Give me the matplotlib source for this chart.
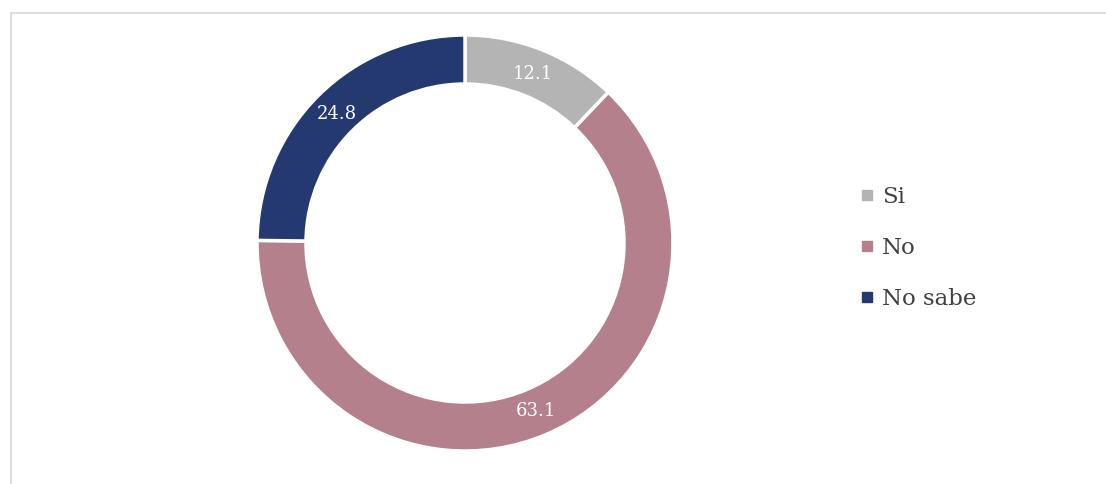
import matplotlib
matplotlib.use("Agg")
import matplotlib.pyplot as plt
from matplotlib.lines import Line2D
from matplotlib.patches import Rectangle

categories = ["Si", "No", "No sabe"]
values = [12.1, 63.1, 24.8]
colors = ["#b4b4b4", "#b3808b", "#24396f"]

W, H = 1106, 484
fig = plt.figure(figsize=(W / 100, H / 100), dpi=100)
fig.patch.set_facecolor("white")

# light frame around the chart area (open on right/bottom like the source crop)
fig.patches.append(
    Rectangle((11 / W, -0.1), 1.2, (H - 13) / H + 0.1, transform=fig.transFigure,
              fill=False, edgecolor="#dcdcdc", linewidth=1.5)
)

# axes in pixel units so the donut can be placed directly
ax = fig.add_axes([0, 0, 1, 1])
ax.set_xlim(0, W)
ax.set_ylim(0, H)
ax.set_aspect("equal")
ax.axis("off")

outer = 208
ring = 49
wedges, _, autotexts = ax.pie(
    values,
    colors=colors,
    startangle=90,
    counterclock=False,
    center=(465, H - 243),
    radius=outer,
    autopct=lambda p: f"{p:.1f}",
    pctdistance=0.875,
    wedgeprops=dict(width=ring, edgecolor="white", linewidth=2.5),
    textprops=dict(color="white", fontsize=13, family="DejaVu Serif"),
)
ax.set_xlim(0, W)
ax.set_ylim(0, H)

handles = [
    Line2D([0], [0], marker="s", linestyle="none", markersize=6.5,
           markerfacecolor=c, markeredgecolor=c)
    for c in colors
]
leg = ax.legend(
    handles, categories,
    loc="center left", bbox_to_anchor=(841 / W, (H - 248) / H),
    bbox_transform=fig.transFigure,
    frameon=False, handlelength=0.5, handletextpad=0.4,
    labelspacing=1.25,
    prop=dict(family="DejaVu Serif", size=16.5),
)
for t in leg.get_texts():
    t.set_color("#404040")

fig.savefig("out.png", dpi=100)
